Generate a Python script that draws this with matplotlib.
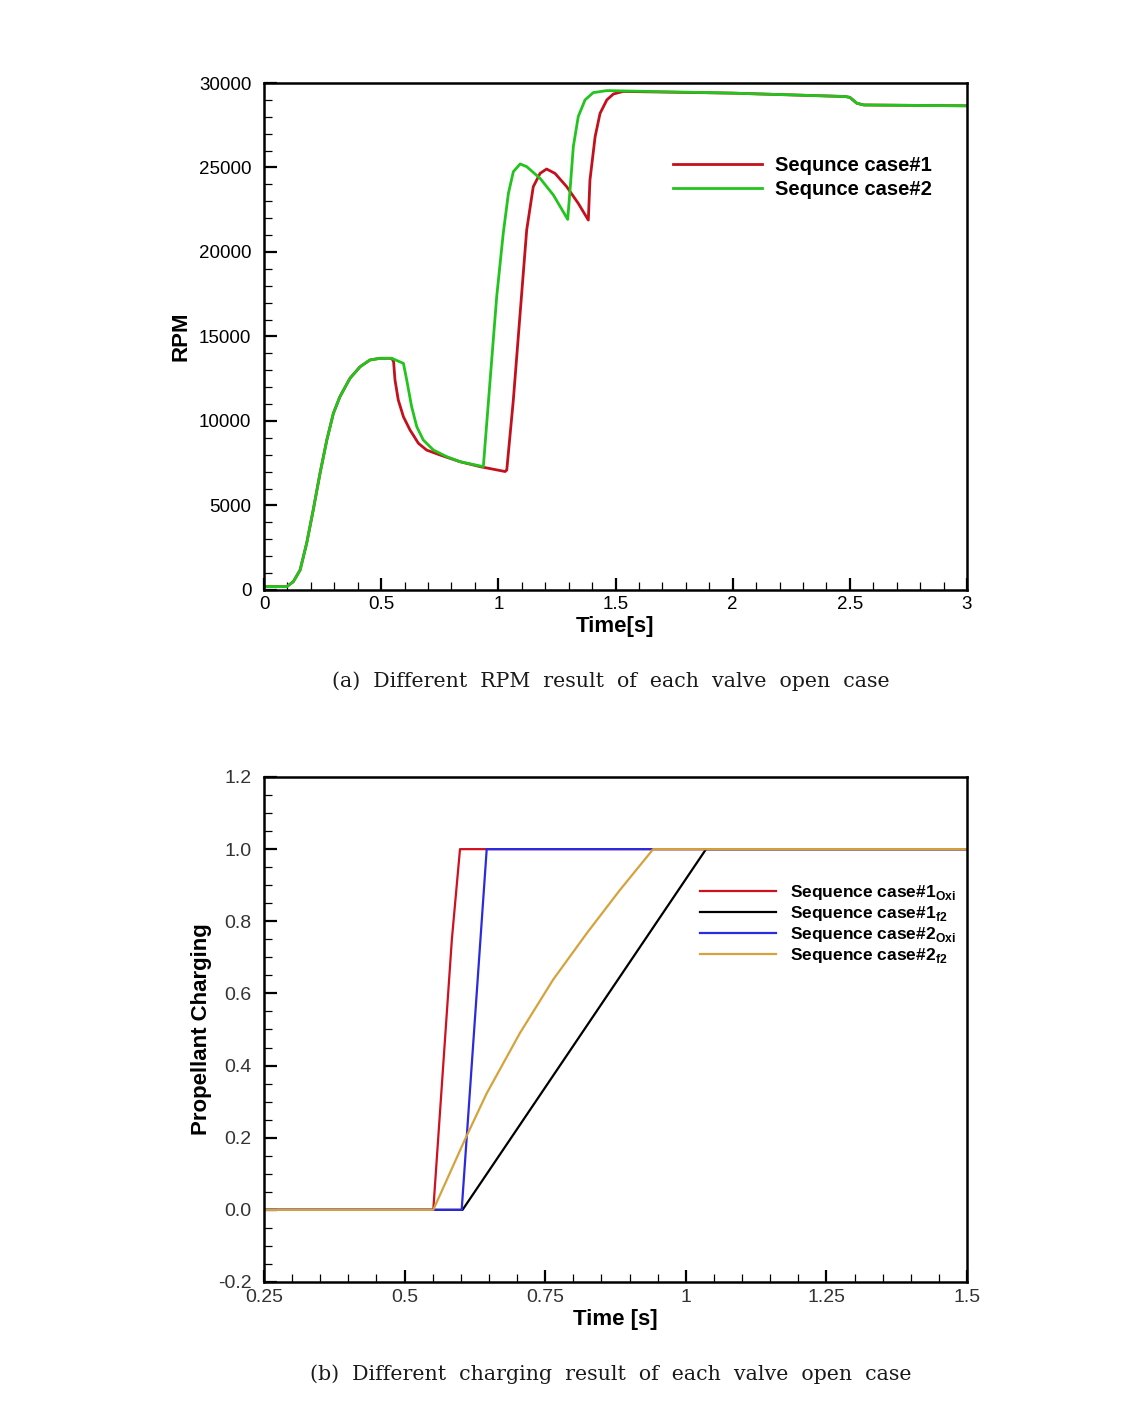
import matplotlib
matplotlib.use("Agg")
import matplotlib.pyplot as plt
from matplotlib.ticker import MultipleLocator

# ---------------- data: (a) RPM ----------------
t_case1 = [0, 0.097, 0.125, 0.154, 0.182, 0.21, 0.239, 0.268, 0.296, 0.324, 0.367, 0.41, 0.452, 0.495, 0.545,
           0.553, 0.559, 0.573, 0.595, 0.623, 0.659, 0.694, 0.751, 0.837, 0.922, 1.029, 1.036, 1.064, 1.093,
           1.121, 1.149, 1.178, 1.206, 1.242, 1.292, 1.341, 1.384, 1.391, 1.413, 1.434, 1.463, 1.491, 1.533,
           2.0, 2.48, 2.5, 2.53, 2.56, 3.0]
rpm_case1 = [200, 200, 490, 1180, 2760, 4730, 6900, 8870, 10450, 11440, 12530, 13210, 13610, 13710, 13710,
             13510, 12430, 11240, 10250, 9470, 8680, 8280, 7990, 7590, 7300, 7010, 7100, 11240, 16370,
             21300, 23860, 24650, 24910, 24650, 23860, 22880, 21890, 24260, 26820, 28200, 29000, 29350, 29500,
             29400, 29200, 29150, 28800, 28700, 28650]

t_case2 = [0, 0.097, 0.125, 0.154, 0.182, 0.21, 0.239, 0.268, 0.296, 0.324, 0.367, 0.41, 0.452, 0.495, 0.545,
           0.595, 0.609, 0.63, 0.652, 0.68, 0.723, 0.78, 0.837, 0.936, 0.965, 0.993, 1.021, 1.043, 1.064,
           1.093, 1.121, 1.178, 1.235, 1.296, 1.306, 1.32, 1.341, 1.37, 1.405, 1.463, 2.0, 2.48, 2.5, 2.53,
           2.56, 3.0]
rpm_case2 = [200, 200, 490, 1180, 2760, 4730, 6900, 8870, 10450, 11440, 12530, 13210, 13610, 13710, 13710,
             13410, 12430, 10850, 9660, 8870, 8280, 7890, 7590, 7300, 12430, 17360, 21110, 23470, 24750,
             25210, 25050, 24360, 23370, 21930, 23670, 26230, 28010, 29000, 29430, 29550, 29400, 29200, 29150, 28800,
             28700, 28650]

rpm_labels = ["Sequnce case#1", "Sequnce case#2"]
rpm_xticks = [0, 0.5, 1, 1.5, 2, 2.5, 3]
rpm_xticklabels = ["0", "0.5", "1", "1.5", "2", "2.5", "3"]
rpm_yticks = [0, 5000, 10000, 15000, 20000, 25000, 30000]

# ---------------- data: (b) Propellant charging ----------------
t_c1_oxi = [0.25, 0.551, 0.584, 0.5985, 1.5]
v_c1_oxi = [0, 0, 0.749, 1.0, 1.0]
t_c1_f2 = [0.25, 0.603, 1.036, 1.5]
v_c1_f2 = [0, 0, 1.0, 1.0]
t_c2_oxi = [0.25, 0.6015, 0.646, 1.5]
v_c2_oxi = [0, 0, 1.0, 1.0]
t_c2_f2 = [0.25, 0.551, 0.607, 0.646, 0.705, 0.764, 0.824, 0.883, 0.942, 1.5]
v_c2_f2 = [0, 0, 0.194, 0.323, 0.49, 0.638, 0.767, 0.887, 1.0, 1.0]

chg_labels = [r"Sequence case#1$_{\mathregular{Oxi}}$", r"Sequence case#1$_{\mathregular{f2}}$",
              r"Sequence case#2$_{\mathregular{Oxi}}$", r"Sequence case#2$_{\mathregular{f2}}$"]
chg_xticks = [0.25, 0.5, 0.75, 1, 1.25, 1.5]
chg_xticklabels = ["0.25", "0.5", "0.75", "1", "1.25", "1.5"]
chg_yticks = [-0.2, 0.0, 0.2, 0.4, 0.6, 0.8, 1.0, 1.2]

captions = ["(a)  Different  RPM  result  of  each  valve  open  case",
            "(b)  Different  charging  result  of  each  valve  open  case"]

# ---------------- figure ----------------
plt.rcParams['font.family'] = ['Liberation Sans', 'DejaVu Sans']
plt.rcParams['mathtext.fontset'] = 'custom'
plt.rcParams['mathtext.rm'] = 'Liberation Sans'
W, H = 1147, 1403
fig = plt.figure(figsize=(W / 100, H / 100), dpi=100)


def frac_axes(l, t, r, b):
    return fig.add_axes([l / W, 1 - b / H, (r - l) / W, (b - t) / H])


def style_axes(ax, lsize):
    for s in ax.spines.values():
        s.set_linewidth(1.8)
    ax.tick_params(which='both', direction='in', top=False, right=False)
    ax.tick_params(which='major', length=9, width=1.6, labelsize=lsize)
    ax.tick_params(which='minor', length=5.5, width=0.9)


# (a)
ax1 = frac_axes(264, 83, 967, 590)
ax1.plot(t_case1, rpm_case1, color='#c4101c', lw=2.0, label=rpm_labels[0])
ax1.plot(t_case2, rpm_case2, color='#22c41e', lw=2.0, label=rpm_labels[1])
ax1.set_xlim(0, 3)
ax1.set_ylim(0, 30000)
style_axes(ax1, 13.5)
ax1.set_xticks(rpm_xticks)
ax1.set_xticklabels(rpm_xticklabels)
ax1.set_yticks(rpm_yticks)
ax1.xaxis.set_minor_locator(MultipleLocator(0.1))
ax1.yaxis.set_minor_locator(MultipleLocator(1000))
ax1.tick_params(axis='x', pad=4)
ax1.tick_params(axis='y', pad=9)
ax1.set_xlabel("Time[s]", fontsize=16, fontweight='bold')
ax1.set_ylabel("RPM", fontsize=16, fontweight='bold')
ax1.xaxis.set_label_coords(0.5, -(616 - 590) / 507)
ax1.yaxis.set_label_coords(-(264 - 191) / 703, 0.5)
ax1.legend(loc='upper left', bbox_to_anchor=((673 - 264) / 703, 1 - (156 - 83) / 507),
           frameon=False, borderpad=0, borderaxespad=0, handlelength=4.4, handletextpad=0.65,
           labelspacing=0.25, prop={'weight': 'bold', 'size': 14.5})

# (b)
ax2 = frac_axes(264, 777, 967, 1282)
ax2.plot(t_c1_oxi, v_c1_oxi, color='#d0101e', lw=1.6, label=chg_labels[0])
ax2.plot(t_c1_f2, v_c1_f2, color='#000000', lw=1.6, label=chg_labels[1])
ax2.plot(t_c2_oxi, v_c2_oxi, color='#2a2ae0', lw=1.6, label=chg_labels[2])
ax2.plot(t_c2_f2, v_c2_f2, color='#d6a23c', lw=1.6, label=chg_labels[3])
ax2.set_xlim(0.25, 1.5)
ax2.set_ylim(-0.2, 1.2)
style_axes(ax2, 14)
ax2.set_xticks(chg_xticks)
ax2.set_xticklabels(chg_xticklabels)
ax2.set_yticks(chg_yticks)
ax2.set_yticklabels([f"{v:.1f}" for v in chg_yticks])
ax2.xaxis.set_minor_locator(MultipleLocator(0.05))
ax2.yaxis.set_minor_locator(MultipleLocator(0.05))
ax2.tick_params(which='both', labelcolor='#333333')
ax2.tick_params(axis='x', pad=5)
ax2.tick_params(axis='y', pad=9)
ax2.set_xlabel("Time [s]", fontsize=16, fontweight='bold')
ax2.set_ylabel("Propellant Charging", fontsize=16, fontweight='bold')
ax2.xaxis.set_label_coords(0.5, -(1309 - 1282) / 505)
ax2.yaxis.set_label_coords(-(264 - 212) / 703, 0.5)
ax2.legend(loc='upper left', bbox_to_anchor=((700 - 264) / 703, 1 - (883 - 777) / 505),
           frameon=False, borderpad=0, borderaxespad=0, handlelength=4.4, handletextpad=0.8,
           labelspacing=0.12, prop={'weight': 'bold', 'size': 12.5})

for cap, ypix in zip(captions, [681, 1374]):
    fig.text(611 / W, 1 - ypix / H, cap, ha='center', va='center', fontsize=14.8,
             family='DejaVu Serif', color='#1a1a1a')

fig.savefig("out.png", dpi=100)
